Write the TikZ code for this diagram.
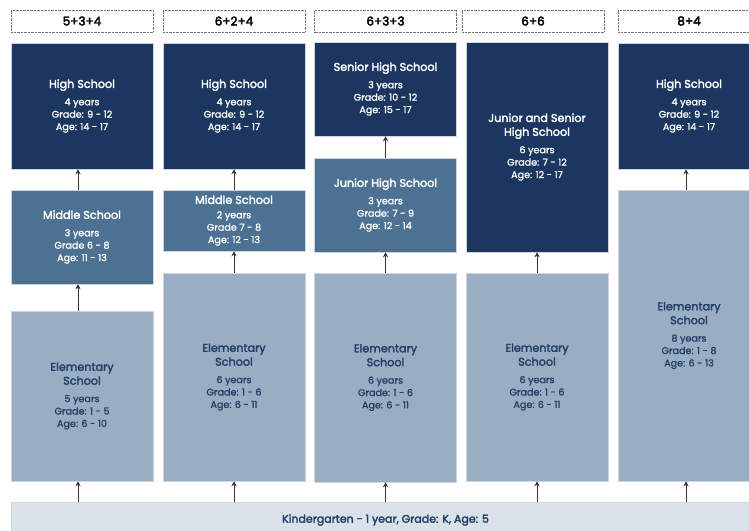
\documentclass[tikz,border=0pt]{standalone}
\usepackage{fontspec}
\setmainfont{Poppins}
\newfontfamily\medfam{Poppins}[FakeBold=2.6]
\newfontfamily\hdrfam{Poppins}[FakeBold=3.2]
\newfontfamily\bodyfam{Poppins}[FakeBold=1.3]
\usepackage{tikz}
\usetikzlibrary{arrows.meta,positioning}
\usepackage{xcolor}
\definecolor{navy}{RGB}{27,54,95}
\definecolor{steel}{RGB}{76,113,146}
\definecolor{mist}{RGB}{154,174,195}
\definecolor{kgfill}{RGB}{217,225,233}
\definecolor{inkblue}{RGB}{35,64,104}
\definecolor{paleline}{RGB}{205,214,224}

\newcommand{\titlef}{\medfam\fontsize{11.2}{13.5}\selectfont}
\newcommand{\bodyf}{\bodyfam\fontsize{9.6}{12.4}\selectfont}
\newcommand{\schoolname}[1]{\titlef #1\\[5pt]\bodyf}
\newcommand{\schooltwo}[2]{\titlef #1\\[1.5pt]\titlef #2\\[5pt]\bodyf}

\begin{document}
\begin{tikzpicture}[x=1pt,y=-1pt,
    box/.style={rectangle,draw=paleline,line width=0.5pt,minimum width=142pt,
      inner sep=0pt,align=center,font=\bodyf},
    hsbox/.style={box,fill=navy,text=white},
    msbox/.style={box,fill=steel,text=white},
    esbox/.style={box,fill=mist,text=inkblue},
    hdr/.style={rectangle,draw=black!55,densely dotted,minimum width=142pt,
      minimum height=22pt,inner sep=0pt,font=\hdrfam\fontsize{12}{14}\selectfont},
    up/.style={-{Stealth[length=5pt,width=5pt]},line width=0.8pt,draw=black!80}]
  \useasboundingbox (0,0) rectangle (749,530);
  % kindergarten strip
  \node[box,fill=kgfill,text=inkblue,minimum width=749pt,minimum height=36pt,
    font=\medfam\fontsize{11}{13}\selectfont] (kg) at (385.5,520)
    {Kindergarten - 1 year, Grade: K, Age: 5};
  % column headers
  \foreach \lbl/\cx [count=\i] in {5+3+4/82,6+2+4/234,6+3+3/385.5,6+6/533,8+4/689} {
    \node[hdr] (h\i) at (\cx,21) {\lbl};
  }
  % 5+3+4
  \node[hsbox,minimum height=126pt] (a1) at (82,106)
    {\schoolname{High School}4 years\\Grade: 9 - 12\\Age: 14 - 17};
  \node[msbox,minimum height=94pt] (a2) at (82,237)
    {\schoolname{Middle School}3 years\\Grade 6 - 8\\Age: 11 - 13};
  \node[esbox,minimum height=170pt] (a3) at (82,396)
    {\schooltwo{Elementary}{School}5 years\\Grade: 1 - 5\\Age: 6 - 10};
  % 6+2+4
  \node[hsbox,minimum height=126pt] (b1) at (234,106)
    {\schoolname{High School}4 years\\Grade: 9 - 12\\Age: 14 - 17};
  \node[msbox,minimum height=61pt] (b2) at (234,220.5)
    {\titlef Middle School\\[2pt]\bodyf 2 years\\Grade 7 - 8\\Age: 12 - 13};
  \node[esbox,minimum height=208pt] (b3) at (234,377)
    {\schooltwo{Elementary}{School}6 years\\Grade: 1 - 6\\Age: 6 - 11};
  % 6+3+3
  \node[hsbox,minimum height=94pt] (c1) at (385.5,89)
    {\schoolname{Senior High School}3 years\\Grade: 10 - 12\\Age: 15 - 17};
  \node[msbox,minimum height=94pt] (c2) at (385.5,205)
    {\schoolname{Junior High School}3 years\\Grade: 7 - 9\\Age: 12 - 14};
  \node[esbox,minimum height=209pt] (c3) at (385.5,377.5)
    {\schooltwo{Elementary}{School}6 years\\Grade: 1 - 6\\Age: 6 - 11};
  % 6+6
  \node[hsbox,minimum height=210pt] (d1) at (537,147)
    {\schooltwo{Junior and Senior}{High School}6 years\\Grade: 7 - 12\\Age: 12 - 17};
  \node[esbox,minimum height=208pt] (d3) at (537,377)
    {\schooltwo{Elementary}{School}6 years\\Grade: 1 - 6\\Age: 6 - 11};
  % 8+4
  \node[hsbox,minimum height=126pt] (e1) at (689,106)
    {\schoolname{High School}4 years\\Grade: 9 - 12\\Age: 14 - 17};
  \node[esbox,minimum height=291pt] (e3) at (689,335.5)
    {\schooltwo{Elementary}{School}8 years\\Grade: 1 - 8\\Age: 6 - 13};
  % arrows (first and last column sit a little left of centre)
  \foreach \lo/\hi/\dx in {a3/a2/-4,a2/a1/-4,b3/b2/0,b2/b1/0,c3/c2/0,c2/c1/0,d3/d1/0,e3/e1/-3} {
    \draw[up] ([xshift=\dx pt]\lo.north) -- ([xshift=\dx pt]\hi.south);
  }
  \foreach \el/\dx in {a3/-4,b3/0,c3/0,d3/0,e3/-3} {
    \draw[up] ([xshift=\dx pt]kg.north -| \el.north) -- ([xshift=\dx pt]\el.south);
  }
\end{tikzpicture}
\end{document}
